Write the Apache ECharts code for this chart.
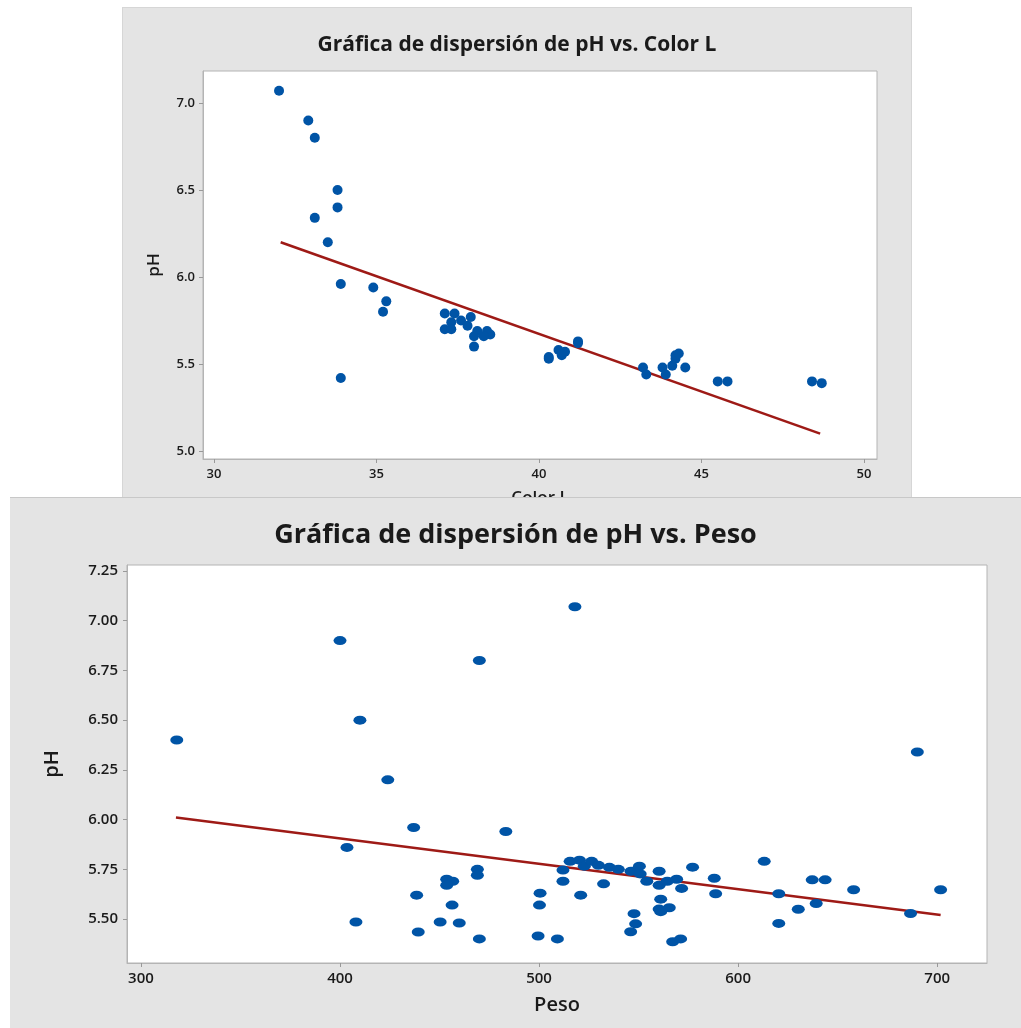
<!DOCTYPE html>
<html>
<head>
<meta charset="utf-8">
<script src="https://cdn.jsdelivr.net/npm/echarts@6/dist/echarts.min.js"></script>
<style>
  body { margin: 0; background: #fff; width: 1021px; height: 1028px; position: relative; overflow: hidden; }
  #top { position: absolute; left: 122px; top: 7px; width: 790px; height: 520px; background: #e4e4e4; border: 1px solid #d6d6d6; box-sizing: border-box; }
  #bottom { position: absolute; left: 10px; top: 497px; width: 1011px; height: 531px; background: #e4e4e4; border-top: 1px solid #c8c8c8; box-sizing: border-box; z-index: 2; }
</style>
</head>
<body>
<div id="top"></div>
<div id="bottom"></div>
<script>
// pH vs Color L
var colorL = [32.0, 32.9, 33.1, 33.8, 33.8, 33.1, 33.5, 33.9, 34.9, 35.3, 35.2, 33.9,
  37.1, 37.4, 37.9, 37.3, 37.6, 37.8, 37.1, 37.3, 38.1, 38.4, 38.5, 38.0, 38.3, 38.0,
  40.3, 40.3, 40.6, 40.7, 40.8, 41.2, 41.2, 43.2, 43.3, 43.8, 43.9, 44.1, 44.2, 44.2,
  44.3, 44.5, 45.5, 45.8, 48.4, 48.7];
var phL = [7.07, 6.90, 6.80, 6.50, 6.40, 6.34, 6.20, 5.96, 5.94, 5.86, 5.80, 5.42,
  5.79, 5.79, 5.77, 5.74, 5.75, 5.72, 5.70, 5.70, 5.69, 5.69, 5.67, 5.66, 5.66, 5.60,
  5.53, 5.54, 5.58, 5.55, 5.57, 5.63, 5.62, 5.48, 5.44, 5.48, 5.44, 5.49, 5.53, 5.55,
  5.56, 5.48, 5.40, 5.40, 5.40, 5.39];
var fitLx = [32.05, 48.65];
var fitLy = [6.20, 5.10];
var ticksLx = [30, 35, 40, 45, 50];
var ticksLy = [5.0, 5.5, 6.0, 6.5, 7.0];

// pH vs Peso
var peso = [400, 470, 410, 318, 518, 424, 690, 437, 403.5, 469, 469, 453.6, 456.6, 453.6,
  438.5, 456.3, 408, 450.3, 459.9, 439.3, 470, 483.3, 500.5, 500.2, 499.5, 509.2, 512,
  512, 515.6, 520.3, 522.7, 520.9, 526.4, 529.8, 532.4, 535.3, 539.8, 546.2, 550.4,
  550.8, 554.1, 547.7, 548.5, 546, 560.3, 560.3, 561.1, 560.3, 561.1, 565.4, 564.4,
  569.1, 571.6, 567.1, 571.1, 577.1, 588, 588.7, 613.1, 637.2, 643.7, 620.4, 620.4,
  630.2, 639.2, 658, 686.6, 701.7];
var phP = [6.90, 6.80, 6.50, 6.40, 7.07, 6.20, 6.34, 5.96, 5.86, 5.75, 5.72, 5.70, 5.69, 5.67,
  5.62, 5.57, 5.485, 5.485, 5.48, 5.435, 5.40, 5.94, 5.63, 5.57, 5.415, 5.40, 5.746,
  5.69, 5.79, 5.796, 5.766, 5.62, 5.79, 5.77, 5.677, 5.76, 5.75, 5.74, 5.766,
  5.727, 5.69, 5.527, 5.476, 5.436, 5.74, 5.67, 5.60, 5.55, 5.537, 5.557, 5.69,
  5.70, 5.654, 5.386, 5.40, 5.761, 5.705, 5.627, 5.79, 5.697, 5.697, 5.627, 5.478,
  5.549, 5.578, 5.647, 5.528, 5.647];
var fitPx = [317.6, 701.7];
var fitPy = [6.01, 5.52];
var ticksPx = [300, 400, 500, 600, 700];
var ticksPy = [5.50, 5.75, 6.00, 6.25, 6.50, 6.75, 7.00, 7.25];

var dotColor = '#0054a6';
var lineColor = '#9e1a16';
var txt = '#1a1a1a';
var font = 'Open Sans';

function pairs(xs, ys) {
  return xs.map(function (x, i) { return [x, ys[i]]; });
}

function axis(opt) {
  return {
    type: 'value',
    min: opt.min,
    max: opt.max,
    name: opt.name,
    nameLocation: 'middle',
    nameGap: opt.nameGap,
    nameRotate: opt.rotate,
    nameTextStyle: { fontFamily: font, fontSize: opt.nameSize, fontWeight: 600, color: txt },
    splitLine: { show: false },
    axisLine: { show: true, lineStyle: { color: '#b4b4b4', width: 1 } },
    axisTick: { show: true, length: 4, customValues: opt.ticks, lineStyle: { color: '#999' } },
    axisLabel: {
      customValues: opt.ticks, margin: opt.margin,
      fontFamily: font, fontSize: opt.labelSize, fontWeight: 600, color: txt,
      formatter: function (v) { return opt.digits ? v.toFixed(opt.digits) : String(v); }
    }
  };
}

var topChart = echarts.init(document.getElementById('top'));
topChart.setOption({
  animation: false,
  title: {
    text: 'Gráfica de dispersión de pH vs. Color L',
    left: 'center', top: 22,
    textStyle: { fontFamily: font, fontSize: 21, fontWeight: 'bold', color: txt }
  },
  grid: { left: 80, top: 63, width: 674, height: 388, show: true, backgroundColor: '#fff', borderColor: '#b4b4b4' },
  xAxis: axis({ min: 29.66, max: 50.4, ticks: ticksLx, name: 'Color L', nameGap: 31, nameSize: 17, labelSize: 13, margin: 9 }),
  yAxis: axis({ min: 4.954, max: 7.184, ticks: ticksLy, name: 'pH', nameGap: 40, rotate: 90, nameSize: 17, labelSize: 13, margin: 8, digits: 1 }),
  series: [
    { type: 'scatter', symbolSize: 10, itemStyle: { color: dotColor, opacity: 1 }, data: pairs(colorL, phL) },
    { type: 'line', symbol: 'none', lineStyle: { color: lineColor, width: 2.5 }, data: pairs(fitLx, fitLy), z: 1 }
  ]
});

var bottomChart = echarts.init(document.getElementById('bottom'));
bottomChart.setOption({
  animation: false,
  title: {
    text: 'Gráfica de dispersión de pH vs. Peso',
    left: 'center', top: 19,
    textStyle: { fontFamily: font, fontSize: 27, fontWeight: 'bold', color: txt }
  },
  grid: { left: 117, top: 67, width: 860, height: 398, show: true, backgroundColor: '#fff', borderColor: '#b4b4b4' },
  xAxis: axis({ min: 293, max: 725, ticks: ticksPx, name: 'Peso', nameGap: 32, nameSize: 20, labelSize: 15, margin: 8 }),
  yAxis: axis({ min: 5.279, max: 7.28, ticks: ticksPy, name: 'pH', nameGap: 65, rotate: 90, nameSize: 20, labelSize: 15, margin: 9, digits: 2 }),
  series: [
    { type: 'scatter', symbolSize: [13, 9], itemStyle: { color: dotColor, opacity: 1 }, data: pairs(peso, phP) },
    { type: 'line', symbol: 'none', lineStyle: { color: lineColor, width: 2.5 }, data: pairs(fitPx, fitPy), z: 1 }
  ]
});
</script>
</body>
</html>
